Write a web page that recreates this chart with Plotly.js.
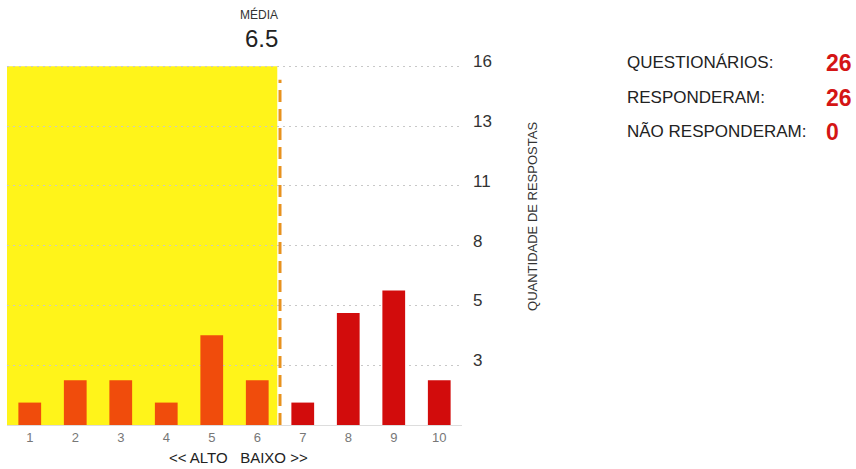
<!DOCTYPE html>
<html>
<head>
<meta charset="utf-8">
<script src="https://cdn.plot.ly/plotly-3.0.1.min.js"></script>
<style>html,body{margin:0;padding:0;background:#fff;}#chart{width:856px;height:469px;}</style>
</head>
<body>
<div id="chart"></div>
<script>
const categories = [1, 2, 3, 4, 5, 6, 7, 8, 9, 10];
const responses = [1, 2, 2, 1, 4, 2, 1, 5, 6, 2];
const mean = 6.5;
const yTickVals = [16/6, 32/6, 8, 64/6, 80/6, 16];
const yTickText = ['3', '5', '8', '11', '13', '16'];
const summaryLabels = ['QUESTIONÁRIOS:', 'RESPONDERAM:', 'NÃO RESPONDERAM:'];
const summaryValues = [26, 26, 0];

const barColors = categories.map(c => c <= mean ? '#F04C0C' : '#D20C0C');

const trace = {
  type: 'bar',
  x: categories,
  y: responses,
  width: 0.5,
  marker: {color: barColors, line: {width: 0}},
  hoverinfo: 'x+y'
};

const font = 'Liberation Sans, Arial, sans-serif';
const annotations = [
  {xref: 'x', yref: 'paper', x: mean, y: 1.138, xanchor: 'right', yanchor: 'middle',
   text: 'MÉDIA', showarrow: false, font: {family: font, size: 12, color: '#333'}},
  {xref: 'x', yref: 'paper', x: mean, y: 1.072, xanchor: 'right', yanchor: 'middle',
   text: String(mean), showarrow: false, font: {family: font, size: 24, color: '#222'}},
  {xref: 'paper', yref: 'paper', x: 0.508, y: -0.0914, xanchor: 'center', yanchor: 'middle',
   text: '&lt;&lt; ALTO &nbsp; BAIXO &gt;&gt;', showarrow: false, font: {family: font, size: 15, color: '#222'}},
  {xref: 'paper', yref: 'paper', x: 1.156, y: 0.579, xanchor: 'center', yanchor: 'middle', textangle: -90,
   text: 'QUANTIDADE DE RESPOSTAS', showarrow: false, font: {family: font, size: 13, color: '#333'}}
];
const rowsY = [1.003, 0.906, 0.812];
summaryLabels.forEach((lab, i) => {
  annotations.push({xref: 'paper', yref: 'paper', x: 1.358, y: rowsY[i], xanchor: 'left', yanchor: 'middle',
    text: lab, showarrow: false, font: {family: font, size: 17, color: '#222'}});
  annotations.push({xref: 'paper', yref: 'paper', x: 1.796, y: rowsY[i], xanchor: 'left', yanchor: 'middle',
    text: '<b>' + summaryValues[i] + '</b>', showarrow: false, font: {family: font, size: 23, color: '#D41515'}});
});

const layout = {
  width: 856, height: 469,
  margin: {l: 7, r: 394, t: 64, b: 44},
  paper_bgcolor: '#fff', plot_bgcolor: '#fff',
  showlegend: false,
  xaxis: {
    range: [0.5, 10.5], tickvals: categories, ticktext: categories.map(String),
    showgrid: false, zeroline: false, showline: false, ticks: '', ticklabelstandoff: 3,
    tickfont: {family: font, size: 13, color: '#777'}
  },
  yaxis: {
    side: 'right', range: [0, 16.1], tickvals: yTickVals, ticktext: yTickText,
    showgrid: true, gridcolor: '#c8c8c8', griddash: '2px,4px', gridwidth: 1,
    zeroline: true, zerolinecolor: '#ddd', zerolinewidth: 1,
    showline: false, ticks: '', ticklabelstandoff: 10, ticklabelshift: -5,
    tickfont: {family: font, size: 17, color: '#333'}
  },
  shapes: [
    {type: 'rect', xref: 'x', yref: 'y', x0: 0.5, x1: mean - 0.06, y0: 0, y1: 16,
     fillcolor: '#FFF41A', line: {width: 0}, layer: 'below'},
    {type: 'line', xref: 'x', yref: 'y', x0: mean, x1: mean, y0: 0, y1: 15.4,
     line: {color: '#E8921E', width: 3, dash: '12px,7px'}, layer: 'above'}
  ],
  annotations: annotations
};

Plotly.newPlot('chart', [trace], layout, {displayModeBar: false, staticPlot: true});
</script>
</body>
</html>
